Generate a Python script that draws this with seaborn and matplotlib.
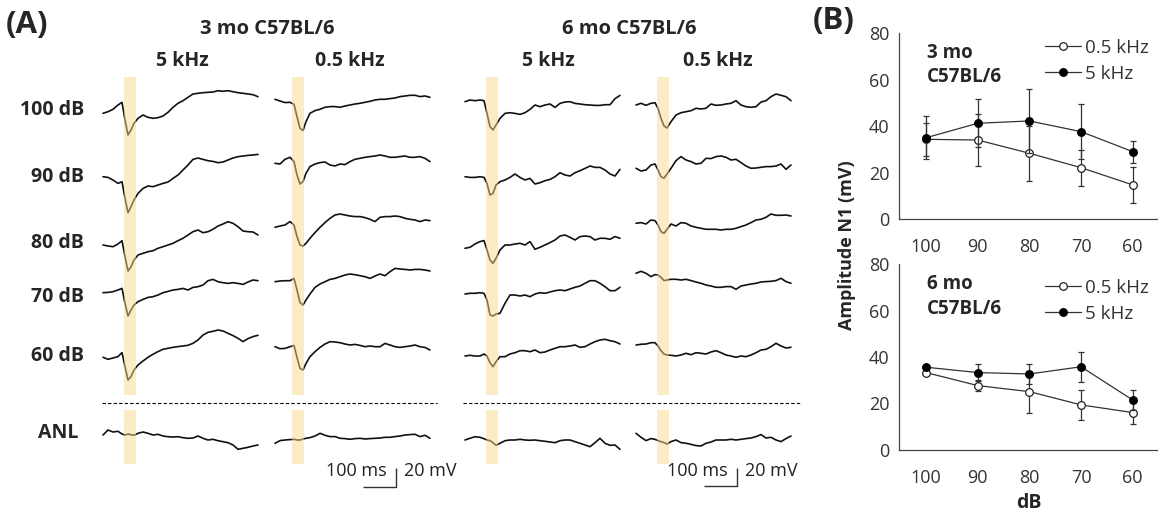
import numpy as np
import pandas as pd
import matplotlib
matplotlib.use("Agg")
import matplotlib.pyplot as plt
from matplotlib import font_manager
from matplotlib.patches import Rectangle
import seaborn as sns

# ------------------------------------------------------------------ data
# Panel B: N1 amplitude (mV), mean and error, by stimulus level
DB_LEVELS = ["100", "90", "80", "70", "60"]
AMP_3MO_05K = [34.4, 34.1, 28.4, 22.2, 14.8]
ERR_3MO_05K = [7.0, 11.2, 11.9, 7.7, 7.9]
AMP_3MO_5K = [35.1, 41.3, 42.3, 37.7, 29.1]
ERR_3MO_5K = [9.3, 10.3, 13.6, 11.9, 4.7]
AMP_6MO_05K = [33.3, 27.7, 25.1, 19.4, 16.1]
ERR_6MO_05K = [1.0, 2.3, 9.0, 6.5, 4.9]
AMP_6MO_5K = [35.6, 33.3, 32.7, 35.8, 21.5]
ERR_6MO_5K = [1.0, 3.7, 4.3, 6.5, 4.3]

# Panel A: evoked traces (deflection, display units; 1 unit ~ 1.08 mV)
ROW_LABELS = ["100 dB", "90 dB", "80 dB", "70 dB", "60 dB", "ANL"]
COL_TITLES = ["5 kHz", "0.5 kHz", "5 kHz", "0.5 kHz"]
GROUP_TITLES = ["3 mo C57BL/6", "6 mo C57BL/6"]
TRACE_T_MS = [0, 15, 30, 45, 57, 66, 75, 84, 93, 105] + list(range(120, 466, 15))

TRACES_3MO_5K = [
    [-3.3, -1.7, 0.7, 5, 7.7, -10, -25, -20, -13.3, -8.3, -5, -7.3, -8.3, -7.7, -6, -2.3, 2.7, 6.7, 9.3, 12.7,
     16, 16.7, 17.3, 17.7, 18, 19.3, 18.7, 19.3, 18.3, 17.3, 16.7, 16, 15.3, 13.3],
    [0, -0.7, -3.3, -6.7, -5, -21.7, -36, -30, -23.3, -16.7, -11.7, -9.3, -10, -8.3, -6.7, -5.3, -1.7, 1.7, 6.7, 11.7,
     17.3, 18.7, 17.3, 16, 15.3, 14, 14.7, 16.7, 18.7, 20, 20.7, 21.3, 21.7, 22.3],
    [0, -1, -1.7, 1, 4.3, -11.7, -26, -21.7, -15, -10, -8.3, -6.7, -5.7, -3.3, -1.7, 0, 1.7, 4.3, 6.7, 10,
     13.3, 15, 12.3, 13.3, 15.7, 19, 21, 23.3, 21.7, 18.3, 14, 13.3, 13, 10],
    [0, 0.3, 1, 2.7, 4.3, -10.7, -23.3, -17.3, -12.3, -9, -6.7, -4.7, -4, -2.3, 0, 1.3, 2.7, 3.3, 4.3, 2.7,
     5.3, 6, 7.7, 12, 13.3, 11, 10, 9.3, 10, 9.3, 8.3, 10.7, 12.7, 12],
    [0, -2, -0.7, 0.7, 4.7, -9.3, -22.7, -19.3, -12.7, -7.7, -3.7, 0, 3, 5.7, 8, 9, 10, 10.7, 11.3, 12,
     14, 17.3, 22.3, 25, 26, 27.3, 26.3, 24, 21.7, 19, 15.7, 18.7, 20.7, 22],
    [0, 5, 3, 3.7, 1, 0, 1, 0.3, -0.3, 1.7, 3, 1.7, 0, 0.7, -1, -1.7, -2, -1.7, -2.7, -3.3,
     -3, -1, -3.3, -5, -4.3, -5.7, -6.7, -7.7, -10, -14.3, -13.3, -12.3, -11, -10],
]
TRACES_3MO_05K = [
    [0, -1.7, -3.3, -3, -5, -17.3, -29, -31.3, -22.3, -14, -11.3, -10, -8, -7.3, -7.3, -8, -6.7, -5.7, -4.7, -4,
     -3, -2, -0.7, 0, 0, 0.7, 1.3, 2.7, 3.3, 4, 4, 2.7, 3.3, 2],
    [0, -0.7, 4, 6, 1.7, -11.7, -20.7, -18.3, -10, -3.3, -0.7, 0.7, 1.3, -1.7, -2.7, -0.7, -1.3, 1.7, 4, 5,
     6, 6.7, 7.3, 8.3, 7.3, 6, 6, 6.7, 7.3, 6, 6, 6.7, 5, 1.7],
    [0, 1.3, 2.3, 5.7, 2.3, -9.3, -17.7, -18.7, -16, -11, -5.3, 0, 4.7, 9, 12.3, 13.3, 12.3, 11.3, 10.7, 10.7,
     9.7, 8, 5.7, 10, 10.7, 10.7, 11.3, 10.7, 9, 8, 7.3, 5.7, 7.3, 6.7],
    [0, 0.7, 1, 1, 3.3, -8.3, -21, -23.3, -18.3, -12.3, -5.7, -2.3, 0, 2.3, 3.3, 5, 6.7, 7.7, 7, 6,
     5, 3.3, 5.7, 7.7, 6, 10, 13.3, 12.7, 12.3, 11.7, 12.3, 12.3, 11.7, 10.7],
    [0, -2, -1.7, 0, 1.3, -10.7, -21.7, -23.3, -16.7, -10, -5, -0.7, 2.7, 5, 4.7, 4, 2.7, 1.7, 2.3, 1.3,
     0, 0.7, 0, 0, 3.3, 1.7, 0, -0.7, 0, 0.7, 1.7, 0, -0.7, -3.3],
    [0, 2.7, 3.3, 3.7, 4, 3.3, 3.3, 4.3, 5, 5.7, 7.3, 10, 8, 6.7, 6.7, 5, 4.7, 4, 4.7, 5,
     4.3, 4.7, 5, 5.3, 6, 6, 6.7, 7.3, 8.3, 8.7, 9, 6.7, 8, 5],
]
TRACES_6MO_5K = [
    [0, 1.7, 1, 1.7, 1, -11.7, -25, -28.3, -23.3, -16.7, -11.7, -11, -11.7, -12.7, -11, -7.7, -3.3, -5, -3.3, -2.3,
     -5.7, -1.7, -0.3, 0, -1.7, -2.3, -3, -3.3, -3.7, -3.7, -3, -3, 3, 6.3],
    [0, -0.7, -0.7, 0, -0.7, -6.7, -18.3, -16.7, -8.3, -5, -3.3, -0.7, 2.7, -0.7, -3.3, -1.7, -7.3, -6, -4, -2.7,
     0, 4, 1.7, 0.7, 4, 6, 8.3, 10.7, 9.3, 9.3, 6.7, 2.7, 0.7, 7.3],
    [0, 1, 4.3, 6.7, 7.7, -1.7, -11.7, -15, -10, -1.7, 3.3, 3.3, 4.3, 5, 3.3, 6.7, -1, 1, 3.3, 5.7,
     8.3, 12.3, 13.3, 11, 8.3, 11.7, 12.3, 11.7, 8.3, 10, 10, 9, 11.7, 10],
    [0, 0.7, 0.7, 1.3, 0.7, -6, -21, -22, -20, -19.3, -9.3, -1, -1, -2, -1, -2.7, 0, 1.3, 0.7, 2,
     3.3, 4, 3.3, 5, 6.7, 8, 10.7, 13.3, 13.3, 10.7, 7.3, 3.3, 3.3, 6.7],
    [0, 0.7, 0, 0, 2, 0, -6.7, -10.7, -5.7, -0.7, -0.7, 2, 3.3, 5.3, 5.3, 4.3, 6, 3.3, 4, 6,
     7.7, 9.3, 9.3, 10, 11, 8.7, 9.3, 12, 14.3, 16, 16.7, 15.3, 14.3, 12],
    [0, 1.7, 3.3, 2.7, 1.3, 0, -0.7, -2.7, -5.3, -3.3, -0.7, 0, 0, 0.7, 0, -0.3, 0, -0.7, -1.3, -2,
     -2.7, -0.7, 0, 0, -1.7, -3.3, -5, -6.7, -2.7, 1.7, -3.3, -5.3, -5, -9.3],
]
TRACES_6MO_05K = [
    [0, 1.7, -0.3, 1.7, 2.3, -3.3, -13.3, -21, -23, -16.7, -10, -7.7, -6.7, -5.7, -3.3, -4, -3.3, 1, -0.3, 0,
     1, 1.7, 4.3, 0, -1.7, -2.3, -1.7, 3, 4.3, 8.3, 11, 9.7, 8.3, 4.3],
    [0, -2.7, -1.7, 3.3, 4.3, -1.7, -8.3, -10, -5.7, 0, 7.7, 11.7, 8.3, 6.7, 4.3, 5, 10, 9.7, 11.7, 12.3,
     11, 8.3, 9, 5.7, 2.3, 0, 0.3, 1, 1.7, 1.7, 2.3, 4.3, -1, 3.3],
    [0, 0.7, -0.7, 3.3, 2.7, -1.7, -8.3, -10, -6, -0.7, -2.7, 0.7, 0, -2.7, -4, -5, -6, -6, -6, -6.7,
     -6, -6, -5, -3.3, -1.7, 0.7, 3.3, 4, 6, 9.3, 8, 8, 8.3, 7.3],
    [0, 2, 0, -3.3, -1.3, -1.7, -4, -7.3, -6.7, -6, -6, -6.7, -6, -7.3, -8.7, -10, -11.7, -12.7, -14, -14,
     -13.3, -13.3, -16, -12.7, -11.7, -10.7, -10, -8.7, -8.3, -8, -7.3, -5, -8.3, -10],
    [0, 0.7, 1, 2.3, 2.3, -1, -5.7, -9, -10, -10.3, -11, -10, -8.3, -9.7, -7.7, -8.3, -9, -7, -5.7, -7.7,
     -10, -11, -12.3, -11, -11.7, -10, -7.7, -5, -4.3, -1.7, 1.7, -1, -3, -2.3],
    [0, -4, -7.3, -5.3, -6, -7.3, -8.3, -9.3, -10.7, -8.3, -6.7, -9.3, -10, -11, -12.3, -12.7, -10, -8.7, -6.7, -6.7,
     -6.7, -6, -6.7, -6, -5.3, -4.7, -3.3, -1.3, -4.7, -4, -6.7, -8.3, -5.3, -2.7],
]
SCALE_MS = 100
SCALE_MV = 20

# ------------------------------------------------------------------ layout (pixels)
W, H = 1158, 514
PX_PER_MS = 1 / 3.0
PX_PER_MV = 0.93
COL_X0 = [103, 275, 465, 636]
BASELINES = [
    [110, 176.7, 245, 292.7, 357.3, 435],
    [99.3, 163.3, 227.3, 281.7, 346.7, 443.3],
    [101.7, 176.7, 248.3, 294, 356, 440],
    [105, 168.3, 223.3, 273.3, 345, 433.3],
]
BAND_X = [(124, 136), (291.7, 304), (486, 498), (657.3, 669)]
BAND_Y = [(77, 395), (410, 464)]
ROW_LABEL_POS = [(84, 110), (84, 177), (84, 243), (84, 297), (84, 356), (78, 433)]

sns.set_style("white")
names = {f.name for f in font_manager.fontManager.ttflist}
BASE_FONT = "Open Sans" if "Open Sans" in names else "DejaVu Sans"
NARROW_FONT = "Liberation Sans Narrow" if "Liberation Sans Narrow" in names else BASE_FONT
plt.rcParams["font.family"] = [BASE_FONT, "DejaVu Sans"]

fig = plt.figure(figsize=(W / 100, H / 100), dpi=100)

# background axes in pixel coordinates for panel A
bg = fig.add_axes([0, 0, 1, 1])
bg.set_xlim(0, W)
bg.set_ylim(H, 0)
bg.axis("off")

columns = [TRACES_3MO_5K, TRACES_3MO_05K, TRACES_6MO_5K, TRACES_6MO_05K]
t_arr = np.array(TRACE_T_MS, dtype=float)
for c, traces in enumerate(columns):
    for r, vals in enumerate(traces):
        xs = COL_X0[c] + t_arr * PX_PER_MS
        ys = BASELINES[c][r] - np.array(vals, dtype=float)
        sns.lineplot(x=xs, y=ys, ax=bg, color="#111111", lw=1.2, sort=False,
                     estimator=None, legend=False, zorder=3)
    for (y0, y1) in BAND_Y:
        bg.add_patch(Rectangle((BAND_X[c][0], y0), BAND_X[c][1] - BAND_X[c][0], y1 - y0,
                               facecolor="#F8DA8C", alpha=0.5, edgecolor="none", zorder=4))

# dashed separators
bg.plot([102, 437], [402.7, 402.7], color="black", lw=0.8, ls=(0, (3, 2)), zorder=2)
bg.plot([463, 800], [402.7, 402.7], color="black", lw=0.8, ls=(0, (3, 2)), zorder=2)

# scale bars
for (xr, yb, tx1, tx2) in [(396, 486.7, 356.7, 430), (737.3, 486.3, 697.5, 771.5)]:
    bg.plot([xr - SCALE_MS * PX_PER_MS, xr, xr], [yb, yb, yb - SCALE_MV * PX_PER_MV],
            color="#333333", lw=1.0, solid_capstyle="butt")
    bg.text(tx1, 471.5, f"{SCALE_MS} ms", ha="center", va="center", fontsize=13,
            family=NARROW_FONT, color="#222222")
    bg.text(tx2, 471.5, f"{SCALE_MV} mV", ha="center", va="center", fontsize=13,
            family=NARROW_FONT, color="#222222")

# text labels panel A
bg.text(27, 25, "(A)", ha="center", va="center", fontsize=22.5, fontweight="bold")
bg.text(834, 21, "(B)", ha="center", va="center", fontsize=22.5, fontweight="bold")
bg.text(267.5, 28.5, GROUP_TITLES[0], ha="center", va="center", fontsize=14.5, fontweight="bold")
bg.text(629, 28.5, GROUP_TITLES[1], ha="center", va="center", fontsize=14.5, fontweight="bold")
for cx, title in zip([182, 350, 548.5, 718], COL_TITLES):
    bg.text(cx, 61.5, title, ha="center", va="center", fontsize=14, fontweight="bold")
for (lx, ly), lab in zip(ROW_LABEL_POS, ROW_LABELS):
    bg.text(lx, ly, lab, ha="right", va="center", fontsize=14, fontweight="bold")

# ------------------------------------------------------------------ panel B
ax_l, ax_r = 899.3, 1157.0


def add_panel(top_px, bottom_px, a05, e05, a5, e5, age, leg_y, txt_y):
    ax = fig.add_axes([ax_l / W, 1 - bottom_px / H, (ax_r - ax_l) / W, (bottom_px - top_px) / H])
    ax.set_facecolor("none")
    xpos = np.arange(len(DB_LEVELS))
    df05 = pd.DataFrame({"pos": xpos, "amp": a05})
    df5 = pd.DataFrame({"pos": xpos, "amp": a5})
    ax.errorbar(xpos, a05, yerr=e05, fmt="none", ecolor="#333333", elinewidth=0.9,
                capsize=2.5, capthick=0.9, zorder=2)
    sns.lineplot(data=df05, x="pos", y="amp", ax=ax, color="#333333", lw=0.9, marker="o",
                 markersize=5.5, markerfacecolor="white", markeredgecolor="#222222",
                 markeredgewidth=0.9, label="0.5 kHz", zorder=3)
    ax.errorbar(xpos, a5, yerr=e5, fmt="none", ecolor="#333333", elinewidth=0.9,
                capsize=2.5, capthick=0.9, zorder=4)
    sns.lineplot(data=df5, x="pos", y="amp", ax=ax, color="#333333", lw=0.9, marker="o",
                 markersize=5.5, markerfacecolor="black", markeredgecolor="black",
                 markeredgewidth=0.9, label="5 kHz", zorder=5)
    ax.set_xlim(-0.52, 4.47)
    ax.set_ylim(0, 80)
    ax.set_xticks(xpos)
    ax.set_xticklabels(DB_LEVELS)
    ax.set_yticks([0, 20, 40, 60, 80])
    ax.set_xlabel("")
    ax.set_ylabel("")
    for s in ["top", "right"]:
        ax.spines[s].set_visible(False)
    for s in ["left", "bottom"]:
        ax.spines[s].set_color("#444444")
        ax.spines[s].set_linewidth(0.9)
    ax.tick_params(axis="both", which="major", direction="out", length=3, width=0.9,
                   color="#444444", labelsize=13, labelcolor="#333333")
    ax.tick_params(axis="x", pad=10.5)
    ax.tick_params(axis="y", pad=4)
    ax.legend(loc="upper left", bbox_to_anchor=(0.565, leg_y), frameon=False, fontsize=13.5,
              handlelength=1.95, handletextpad=0.2, labelspacing=0.42, borderaxespad=0,
              borderpad=0, labelcolor="#333333")
    ax.text(0.108, txt_y, age, transform=ax.transAxes, ha="left", va="center",
            fontsize=13.5, fontweight="bold")
    ax.text(0.108, txt_y - 0.13, "C57BL/6", transform=ax.transAxes, ha="left", va="center",
            fontsize=13.5, fontweight="bold")
    return ax


add_panel(33.3, 219.3, AMP_3MO_05K, ERR_3MO_05K, AMP_3MO_5K, ERR_3MO_5K, "3 mo", 0.97, 0.895)
add_panel(264.0, 450.0, AMP_6MO_05K, ERR_6MO_05K, AMP_6MO_5K, ERR_6MO_5K, "6 mo", 0.92, 0.89)

bg.text(847, 245, "Amplitude N1 (mV)", rotation=90, ha="center", va="center",
        fontsize=13, fontweight="bold")
bg.text(1029.3, 503.5, "dB", ha="center", va="center", fontsize=14, fontweight="bold")

fig.savefig("out.png", dpi=100)
